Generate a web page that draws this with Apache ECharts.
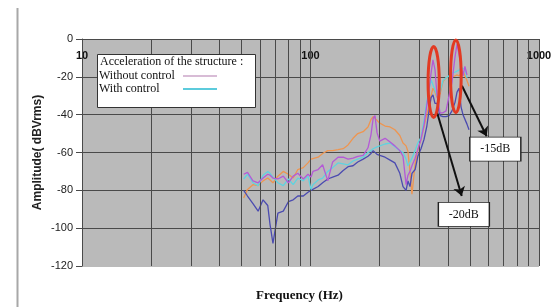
<!DOCTYPE html>
<html>
<head>
<meta charset="utf-8">
<script src="https://cdn.jsdelivr.net/npm/echarts@6/dist/echarts.min.js"></script>
<style>
html, body { margin: 0; padding: 0; background: #fff; }
#main { width: 560px; height: 307px; }
</style>
</head>
<body>
<div id="main"></div>
<script>
// frequency points (Hz) shared by the four curves
var freqHz = [51, 53, 56, 59, 62, 65, 66.5, 68.5, 72, 76,
    80, 84, 88, 93, 97.5, 100.5, 102.5, 108, 113, 119,
    125, 132, 139, 146, 153.5, 161, 170, 178.5, 184, 188,
    191.5, 195.5, 201, 212, 223, 234, 246, 254, 262, 267,
    272.5, 278, 287, 295, 304.5, 314, 323, 330, 337, 343.5,
    350.5, 358, 369, 380, 392, 404, 416, 429, 438, 447,
    456, 465, 474, 484, 494]

// amplitudes in dBVrms
var ampOrange = [-84, -79.5, -77, -77.5, -75, -73.5, -74.5, -76, -72.5, -70,
    -71.5, -73.5, -69, -68, -65.5, -63.5, -63, -62.5, -60.5, -59,
    -59, -58.5, -58, -56, -52.5, -50, -49, -46.5, -42.5, -41,
    -41.5, -43, -44.5, -46, -46.5, -48, -51, -55, -56.5, -59.5,
    -70, -82, -66, -58.5, -53, -46, -40, -35, -30, -26,
    -28, -31, -29, -22.5, -20.5, -20, -20, -19.5, -19, -19.5,
    -19.5, -17, -17, -22, -25]

var ampViolet = [-71.5, -70.5, -75, -76, -73.5, -71.5, -72, -73.5, -74, -72.5,
    -76, -72.5, -71, -74, -71.5, -73, -70, -69, -66.5, -75,
    -65, -62.5, -62.5, -63.5, -63, -62, -61.5, -57.5, -50.5, -42,
    -40.5, -49.5, -54, -52.5, -54.5, -56.5, -59, -62, -77, -72,
    -70, -67, -63, -58.5, -53, -45.5, -35, -27, -18, -11,
    -16, -30, -39, -39, -38, -30, -23, -9.5, -2.5, -8.5,
    -14, -19.5, -14.5, -19, null]

var ampCyan = [-74, -71.5, -76, -77.5, -72, -70, -71, -73, -76, -77.5,
    -74, -77, -73.5, -75, -72.5, -79.5, -77, -74.5, -73.5, -70,
    -68, -65.5, -66, -66.5, -64.5, -63.5, -62.5, -60, -59, -58,
    -57.5, -57, -56.5, -55.5, -55, -57, -59, -60, -63.5, -67,
    -65, -63, -59, -55, -52, -43, -33, -27, -21.5, -22,
    -27, -30, -28, -22, -20.5, -19.5, -18, -17.5, -17, -16.5,
    -15, -14.5, -16, -20.5, null]

var ampBlue = [-80, -83, -87, -91, -85, -88, -98, -108, -92, -91,
    -86, -85, -83, -83, -81, -80, -80, -78, -76, -74,
    -73, -72, -69.5, -67.5, -67, -65, -63.5, -62, -60.5, -59,
    -60, -61, -61.5, -62.5, -64, -65.5, -71, -78, -80, -75,
    -78, -71, -69, -62, -58, -53, -46, -38, -31, -29.5,
    -34, -34, -40.5, -41, -41, -40.5, -38, -33.5, -28, -26,
    -36, -40, -41, -45, -48]

// annotations: ellipses [fLow, fHigh, top, bottom], boxes and arrows in data units
var ellipseBox = [[327, 366, -4, -41.5], [410, 456.5, -0.5, -39]]
var noteText = ['-15dB', '-20dB']
var notePos = [[644, -58.2], [469, -92.7]]
var arrowFrom = [[460, -24.7], [358, -38.9]]
var arrowTo = [[590, -51.4], [459, -83]]

function line_series(name, values, color, z) {
    var pts = []
    for (var i = 0; i < freqHz.length; i++) {
        if (values[i] != null) pts.push([freqHz[i], values[i]])
    }
    return {
        name: name,
        type: 'line',
        data: pts,
        symbol: 'none',
        z: z,
        lineStyle: { color: color, width: 1.3 },
        itemStyle: { color: color }
    }
}

function grid_lines() {
    var lines = []
    for (var d = 10; d < 1000; d *= 10) {
        for (var k = 1; k < 10; k++) lines.push({ xAxis: d * k })
    }
    lines.push({ xAxis: 1000 })
    return lines
}

var chart = echarts.init(document.getElementById('main'))
var serif = 'Liberation Serif'
var dark = '#4a4a4a'

chart.setOption({
    animation: false,
    textStyle: { fontFamily: 'Liberation Sans' },
    grid: { left: 82, right: 21, top: 39, bottom: 40, show: true, backgroundColor: '#bababa', borderWidth: 0 },
    legend: {
        data: [
            { name: 'Without control', itemStyle: { color: '#d8bcd6' } },
            { name: 'With control', itemStyle: { color: '#5ccbdc' } }
        ],
        orient: 'vertical',
        left: 99,
        top: 70,
        padding: 0,
        itemGap: 1,
        align: 'right',
        icon: 'rect',
        itemWidth: 34,
        itemHeight: 2,
        selectedMode: false,
        z: 20,
        formatter: '{a|{name}}',
        textStyle: {
            rich: { a: { width: 79, align: 'left', fontFamily: serif, fontSize: 12, color: '#111', lineHeight: 15 } }
        }
    },
    graphic: [
        { type: 'line', shape: { x1: 17.5, y1: 8, x2: 17.5, y2: 307 }, style: { stroke: '#a8a8a8', lineWidth: 2 } },
        { type: 'rect', z: 10, shape: { x: 97.5, y: 54.5, width: 158, height: 53 }, style: { fill: '#fff', stroke: '#333', lineWidth: 1 } },
        { type: 'text', z: 21, x: 100, y: 56, style: { text: 'Acceleration of the structure :', font: '12px "Liberation Serif"', fill: '#111' } }
    ],
    xAxis: [{
        type: 'log',
        logBase: 10,
        min: 10,
        max: 1000,
        position: 'top',
        axisLine: { show: true, lineStyle: { color: dark } },
        axisTick: { show: false },
        splitLine: { show: false },
        axisLabel: {
            inside: true,
            margin: 11,
            color: '#111',
            fontSize: 11,
            fontWeight: 'bold',
            formatter: function(v) { return String(Math.round(v)) }
        }
    }, {
        type: 'log',
        logBase: 10,
        min: 10,
        max: 1000,
        position: 'bottom',
        axisLine: { show: false },
        axisTick: { show: false },
        axisLabel: { show: false },
        splitLine: { show: false },
        name: 'Frequency (Hz)',
        nameLocation: 'middle',
        nameGap: 23,
        nameTextStyle: { fontFamily: serif, fontWeight: 'bold', fontSize: 13, color: '#111', padding: [0, 22, 0, 0] }
    }],
    yAxis: {
        type: 'value',
        min: -120,
        max: 0,
        interval: 20,
        axisLine: { show: true, lineStyle: { color: dark } },
        axisTick: { show: true, length: 6, lineStyle: { color: dark } },
        axisLabel: { margin: 9, color: '#222', fontSize: 11 },
        splitLine: { lineStyle: { color: ['#bababa', dark, dark, dark, dark, dark, dark] } },
        name: 'Amplitude( dBVrms)',
        nameLocation: 'middle',
        nameGap: 38,
        nameMoveOverlap: false,
        nameTextStyle: { fontWeight: 'bold', fontSize: 12, color: '#222' }
    },
    series: [{
            // vertical log grid
            type: 'line',
            data: [],
            z: 1,
            silent: true,
            markLine: {
                silent: true,
                symbol: 'none',
                label: { show: false },
                lineStyle: { color: dark, width: 1, type: 'solid' },
                data: grid_lines()
            }
        },
        line_series('Without control, sensor 2', ampOrange, '#ee9550', 3),
        line_series('With control, sensor 2', ampBlue, '#4b4bb0', 4),
        line_series('With control', ampCyan, '#5fd3e0', 5),
        line_series('Without control', ampViolet, '#b45ad6', 6),
        {
            type: 'custom',
            data: ellipseBox,
            encode: { x: [0, 1], y: [2, 3] },
            z: 7,
            silent: true,
            renderItem: function(params, api) {
                var a = api.coord([api.value(0), api.value(2)])
                var b = api.coord([api.value(1), api.value(3)])
                return {
                    type: 'ellipse',
                    shape: {
                        cx: (a[0] + b[0]) / 2,
                        cy: (a[1] + b[1]) / 2,
                        rx: Math.abs(b[0] - a[0]) / 2,
                        ry: Math.abs(b[1] - a[1]) / 2
                    },
                    style: { fill: 'none', stroke: '#e23a22', lineWidth: 3 }
                }
            }
        },
        {
            type: 'scatter',
            data: notePos.map(function(p, i) { return { name: noteText[i], value: p } }),
            symbol: 'rect',
            symbolSize: [51, 24],
            z: 8,
            silent: true,
            itemStyle: { color: '#fff', borderColor: '#222', borderWidth: 1, opacity: 1 },
            label: { show: true, position: 'inside', formatter: '{b}', color: '#111', fontFamily: serif, fontSize: 12 },
            markLine: {
                silent: true,
                symbol: ['none', 'arrow'],
                symbolSize: 9,
                label: { show: false },
                lineStyle: { color: '#111', width: 2, type: 'solid' },
                data: arrowFrom.map(function(p, i) { return [{ coord: p }, { coord: arrowTo[i] }] })
            }
        }
    ]
})
</script>
</body>
</html>
